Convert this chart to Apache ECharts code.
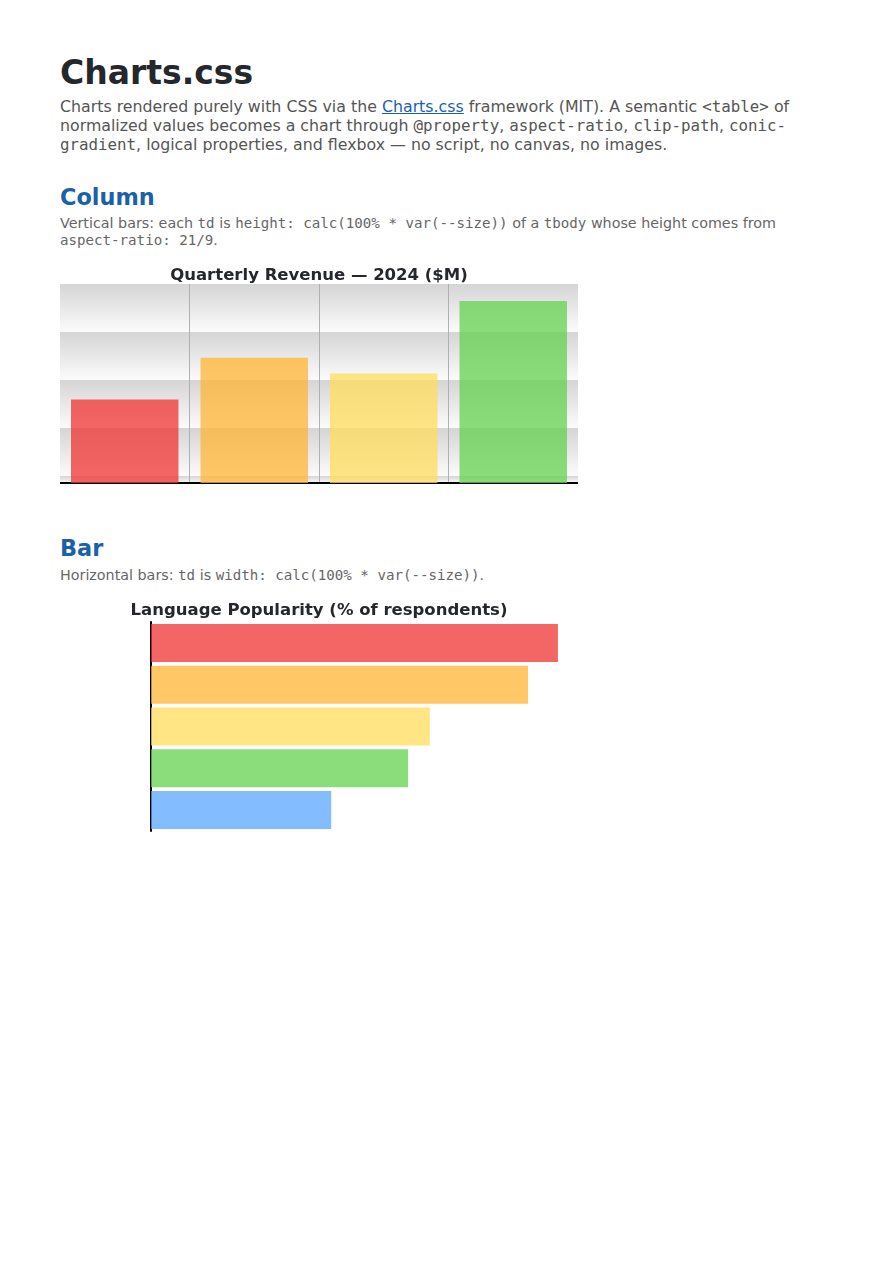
<!DOCTYPE html>
<html>
<head>
<meta charset="utf-8">
<title>Charts.css</title>
<script src="https://cdn.jsdelivr.net/npm/echarts@6/dist/echarts.min.js"></script>
<style>
  body { margin: 0; background: #fff; font-family: "DejaVu Sans", sans-serif; }
  .page { padding-left: 60px; width: 740px; }
  h1 { font-size: 33px; line-height: 40px; margin: 53px 0 0; color: #24272b; }
  h2 { font-size: 22.4px; line-height: 28px; margin: 0; color: #1a61a8; }
  p { margin: 0; color: #555; }
  .lead { font-size: 15.8px; line-height: 19px; margin-top: 3.5px; }
  .note { font-size: 14.3px; line-height: 17px; margin-top: 3.5px; color: #666; }
  code { font-family: "DejaVu Sans Mono", monospace; font-size: 1em; line-height: 0; }
  .note code { font-size: 0.99em; }
  a { color: #1a5fb4; }
  #h2col { margin-top: 29.5px; }
  #h2bar { margin-top: 47px; }
  #h2bar + .note { margin-top: 4.5px; }
  .chart { width: 518px; margin-top: 13.5px; }
  #col { height: 225px; }
  #bar { height: 240px; margin-top: 12.5px; }
</style>
</head>
<body>
<div class="page">
  <h1>Charts.css</h1>
  <p class="lead">Charts rendered purely with CSS via the <a href="#">Charts.css</a> framework (MIT). A semantic <code>&lt;table&gt;</code> of normalized values becomes a chart through <code>@property</code>, <code>aspect-ratio</code>, <code>clip-path</code>, <code>conic-gradient</code>, logical properties, and flexbox — no script, no canvas, no images.</p>
  <h2 id="h2col">Column</h2>
  <p class="note">Vertical bars: each <code>td</code> is <code>height: calc(100% * var(--size))</code> of a <code>tbody</code> whose height comes from <code>aspect-ratio: 21/9</code>.</p>
  <div id="col" class="chart"></div>
  <h2 id="h2bar">Bar</h2>
  <p class="note">Horizontal bars: <code>td</code> is <code>width: calc(100% * var(--size))</code>.</p>
  <div id="bar" class="chart"></div>
</div>
<script>
// values
var quarters = ['Q1', 'Q2', 'Q3', 'Q4'];
var revenue = [4.2, 6.3, 5.5, 9.15];
var revenueMax = 10;

var languages = ['JavaScript', 'Python', 'TypeScript', 'Java', 'Go'];
var popularity = [95.3, 88.3, 65.3, 60.2, 42.2];
var popularityMax = 100;

var palette = [
  'rgba(240, 50, 50, 0.75)',
  'rgba(255, 180, 50, 0.75)',
  'rgba(255, 220, 90, 0.75)',
  'rgba(100, 210, 80, 0.75)',
  'rgba(90, 165, 255, 0.75)'
];

var titleStyle = {
  fontFamily: 'DejaVu Sans',
  fontSize: 16.5,
  fontWeight: 'bold',
  color: '#24272b'
};

// background band, same gradient in every band: grey on top, fading to white
var band = new echarts.graphic.LinearGradient(0, 0, 0, 1, [
  { offset: 0, color: '#d5d5d5' },
  { offset: 1, color: '#fbfbfb' }
]);

var colChart = echarts.init(document.getElementById('col'));
colChart.setOption({
  animation: false,
  title: {
    text: 'Quarterly Revenue — 2024 ($M)',
    left: 'center',
    top: 0,
    textStyle: titleStyle
  },
  grid: { left: 0, right: 0, top: 22, bottom: 4 },
  xAxis: {
    type: 'category',
    data: quarters,
    axisLine: { lineStyle: { color: '#000', width: 2 } },
    axisTick: { show: false },
    axisLabel: { show: false },
    splitLine: {
      show: true,
      interval: function (index) { return index > 0; },
      lineStyle: { color: '#b0b0b0', width: 1 }
    }
  },
  yAxis: [{
    type: 'value',
    min: 0,
    max: revenueMax,
    axisLine: { show: false },
    axisTick: { show: false },
    axisLabel: { show: false },
    splitLine: { show: false }
  }, {
    // hidden helper axis: only paints the 48px background bands from the top
    type: 'value',
    inverse: true,
    min: 0,
    max: 199 / 48,
    interval: 1,
    axisLine: { show: false },
    axisTick: { show: false },
    axisLabel: { show: false },
    splitLine: { show: false },
    splitArea: { show: true, areaStyle: { color: [band] } }
  }],
  series: [{
    type: 'bar',
    yAxisIndex: 0,
    barCategoryGap: '17%',
    data: revenue.map(function (v, i) {
      return { value: v, itemStyle: { color: palette[i] } };
    })
  }]
});

var barChart = echarts.init(document.getElementById('bar'));
barChart.setOption({
  animation: false,
  title: {
    text: 'Language Popularity (% of respondents)',
    left: 'center',
    top: 1,
    textStyle: titleStyle
  },
  grid: { left: 91, right: 0, top: 26, bottom: 5 },
  xAxis: {
    type: 'value',
    min: 0,
    max: popularityMax,
    axisLine: { show: false },
    axisTick: { show: false },
    axisLabel: { show: false },
    splitLine: { show: false }
  },
  yAxis: {
    type: 'category',
    inverse: true,
    data: languages,
    axisLine: { lineStyle: { color: '#000', width: 2 } },
    axisTick: { show: false },
    axisLabel: { show: false }
  },
  series: [{
    type: 'bar',
    barCategoryGap: '9%',
    data: popularity.map(function (v, i) {
      return { value: v, itemStyle: { color: palette[i] } };
    })
  }]
});
</script>
</body>
</html>
